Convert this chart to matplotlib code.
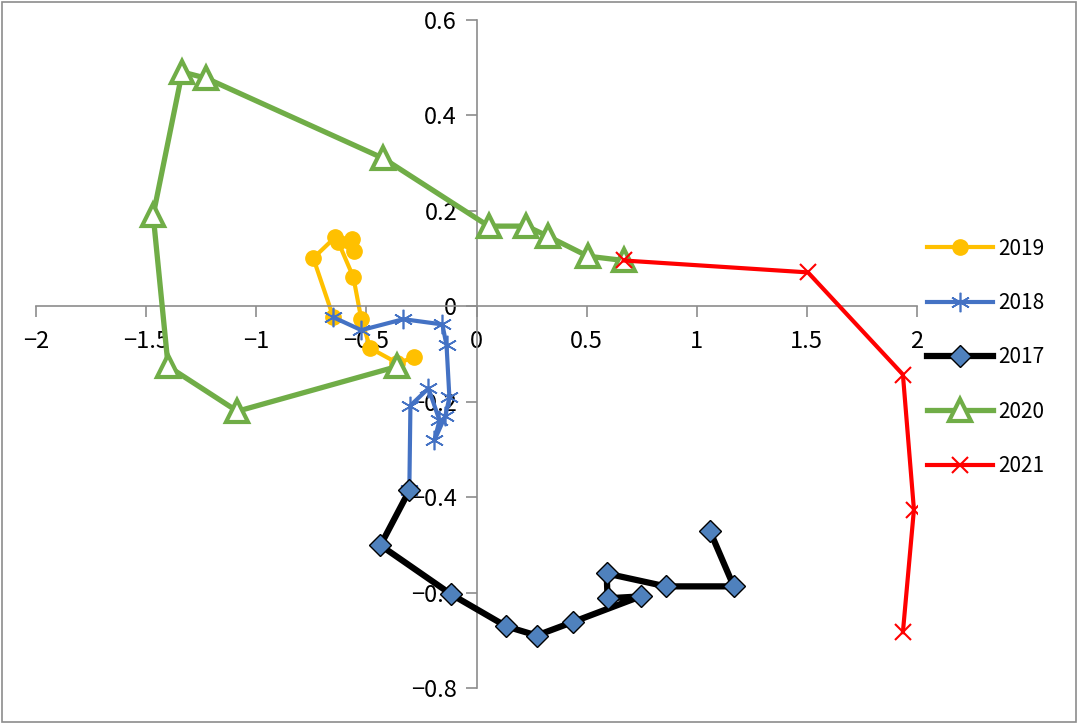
import matplotlib
matplotlib.use("Agg")
import matplotlib.pyplot as plt
from matplotlib.patches import Rectangle

plt.rcParams['font.family'] = ['Noto Sans CJK KR', 'DejaVu Sans']

# 2019
x2019 = [-0.650, -0.741, -0.641, -0.564, -0.555, -0.627, -0.559, -0.523, -0.482, -0.359, -0.282]
y2019 = [-0.023, 0.101, 0.145, 0.140, 0.115, 0.134, 0.061, -0.027, -0.088, -0.119, -0.107]
# 2018
x2018 = [-0.305, -0.300, -0.218, -0.168, -0.191, -0.141, -0.123, -0.136, -0.155, -0.332, -0.523, -0.650]
y2018 = [-0.386, -0.208, -0.172, -0.239, -0.281, -0.229, -0.191, -0.082, -0.038, -0.027, -0.050, -0.023]
# 2017
x2017 = [1.059, 1.168, 0.859, 0.591, 0.595, 0.745, 0.436, 0.273, 0.136, -0.114, -0.436, -0.305]
y2017 = [-0.470, -0.587, -0.587, -0.560, -0.612, -0.608, -0.662, -0.690, -0.671, -0.604, -0.501, -0.386]
# 2020
x2020 = [-0.359, -1.086, -1.400, -1.468, -1.336, -1.227, -0.423, 0.055, 0.227, 0.323, 0.505, 0.668]
y2020 = [-0.126, -0.220, -0.126, 0.191, 0.491, 0.478, 0.310, 0.168, 0.168, 0.147, 0.105, 0.096]
# 2021
x2021 = [0.668, 1.505, 1.936, 1.986, 1.936]
y2021 = [0.096, 0.071, -0.143, -0.426, -0.683]

xticks = [-2, -1.5, -1, -0.5, 0, 0.5, 1, 1.5, 2]
xticklabels = ['\u22122', '\u22121.5', '\u22121', '\u22120.5', '0', '0.5', '1', '1.5', '2']
yticks = [-0.8, -0.6, -0.4, -0.2, 0, 0.2, 0.4, 0.6]
yticklabels = ['\u22120.8', '\u22120.6', '\u22120.4', '\u22120.2', '0', '0.2', '0.4', '0.6']

fig = plt.figure(figsize=(10.8, 7.27), dpi=100)
ax = fig.add_axes([36/1080, 1-688/727, (917-36)/1080, (688-20)/727])

ax.plot(x2019, y2019, color='#FFC000', lw=3, marker='o', ms=11,
        mfc='#FFC000', mec='#FFC000', label='2019', zorder=2)
ax.plot(x2018, y2018, color='#4472C4', lw=3, marker=(6, 2, 0), ms=14,
        mec='#4472C4', mew=1.2, label='2018', zorder=3)
ax.plot(x2017, y2017, color='black', lw=4.5, marker='D', ms=11,
        mfc='#4F81BD', mec='black', mew=1, label='2017', zorder=4)
ax.plot(x2020, y2020, color='#70AD47', lw=3.8, marker='^', ms=16,
        mfc='white', mec='#70AD47', mew=3, label='2020', zorder=5)
ax.plot(x2021, y2021, color='#FF0000', lw=3, marker='x', ms=11,
        mec='#FF0000', mew=1.5, label='2021', zorder=6)

ax.set_xlim(-2, 2)
ax.set_ylim(-0.8, 0.6)
ax.spines['left'].set_position(('data', 0))
ax.spines['bottom'].set_position(('data', 0))
ax.spines['right'].set_visible(False)
ax.spines['top'].set_visible(False)
for s in ['left', 'bottom']:
    ax.spines[s].set_color('#8C8C8C')
    ax.spines[s].set_linewidth(1.2)
ax.set_xticks(xticks)
ax.set_xticklabels(xticklabels)
ax.set_yticks(yticks)
ax.set_yticklabels(yticklabels)
ax.tick_params(axis='x', direction='out', length=8, color='#8C8C8C', width=1.2,
               labelsize=17, pad=9)
ax.tick_params(axis='y', direction='out', length=8, color='#8C8C8C', width=1.2,
               labelsize=17, pad=6)
ax.patch.set_alpha(0)

leg = ax.legend(loc='upper left', bbox_to_anchor=(908/1080, 1-219/727),
                bbox_transform=fig.transFigure, frameon=False, fontsize=15,
                handlelength=3.2, labelspacing=1.55, handletextpad=0.25)

fig.patches.append(Rectangle((2/1080, 1-722/727), 1074/1080, 720/727,
                             transform=fig.transFigure, fill=False,
                             edgecolor='#8C8C8C', lw=1.2))

fig.savefig('out.png', dpi=100)
